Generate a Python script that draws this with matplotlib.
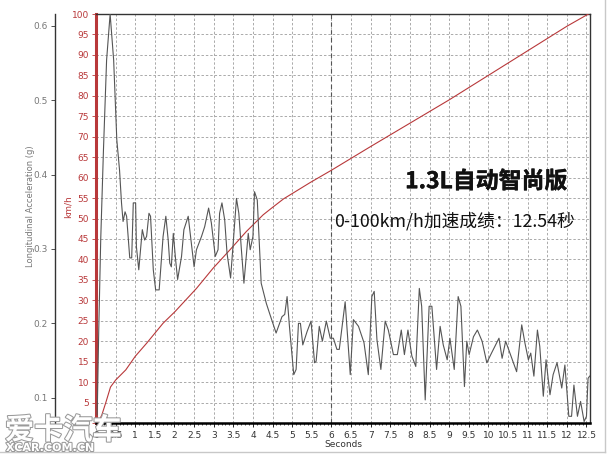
import matplotlib
matplotlib.use('Agg')
import matplotlib.pyplot as plt
import matplotlib.patheffects as pe
from matplotlib.lines import Line2D

# speed trace (km/h)
speed_t = [0.05, 0.15, 0.25, 0.37, 0.5, 0.76, 1.0, 1.29, 1.71, 2.01, 2.56, 2.98,
           3.41, 3.83, 4.26, 4.47, 4.78, 5.46, 6.0, 7.0, 8.0, 9.0, 10.0, 11.0,
           12.0, 12.55]
speed_v = [0, 2, 5, 8.8, 10.5, 13, 16.3, 19.5, 24.4, 27.2, 32.9, 37.8,
           42.3, 46.8, 50.9, 52.5, 54.8, 58.8, 61.8, 67.6, 73.3, 79, 85, 91,
           97, 100]

# longitudinal acceleration trace (g)
acc_t = [0.03, 0.07, 0.12, 0.19, 0.27, 0.36, 0.45, 0.53, 0.60, 0.65, 0.69, 0.74,
         0.78, 0.86, 0.91, 0.95, 1.01, 1.03, 1.09, 1.18, 1.24, 1.29, 1.35, 1.39,
         1.46, 1.52, 1.61, 1.71, 1.78, 1.84, 1.88, 1.92, 1.97, 2.03, 2.08, 2.18,
         2.24, 2.35, 2.41, 2.50, 2.56, 2.69, 2.77, 2.87, 2.94, 3.04, 3.11, 3.15,
         3.21, 3.28, 3.34, 3.43, 3.49, 3.58, 3.64, 3.70, 3.77, 3.88, 3.93, 4.00,
         4.04, 4.11, 4.17, 4.21, 4.34, 4.42, 4.59, 4.74, 4.81, 4.87, 4.93, 5.04,
         5.10, 5.16, 5.21, 5.27, 5.38, 5.48, 5.57, 5.61, 5.69, 5.77, 5.87, 5.97,
         6.05, 6.14, 6.20, 6.35, 6.48, 6.56, 6.69, 6.83, 6.94, 7.03, 7.09, 7.16,
         7.26, 7.37, 7.45, 7.58, 7.68, 7.78, 7.86, 7.95, 8.05, 8.15, 8.24, 8.30,
         8.39, 8.49, 8.56, 8.68, 8.77, 8.85, 8.95, 9.02, 9.13, 9.23, 9.30, 9.39,
         9.45, 9.51, 9.62, 9.72, 9.84, 9.96, 10.08, 10.27, 10.35, 10.44, 10.55, 10.72,
         10.85, 10.93, 11.02, 11.08, 11.16, 11.25, 11.31, 11.40, 11.47, 11.57, 11.65, 11.75,
         11.87, 11.95, 12.05, 12.12, 12.18, 12.27, 12.35, 12.44, 12.50, 12.54, 12.58]
acc_g = [0.077, 0.191, 0.312, 0.433, 0.554, 0.616, 0.554, 0.447, 0.406, 0.362, 0.337, 0.350,
         0.344, 0.288, 0.288, 0.362, 0.362, 0.303, 0.272, 0.326, 0.312, 0.317, 0.348, 0.344,
         0.272, 0.245, 0.245, 0.317, 0.344, 0.312, 0.281, 0.276, 0.321, 0.285, 0.259, 0.290,
         0.326, 0.344, 0.317, 0.276, 0.299, 0.317, 0.330, 0.355, 0.335, 0.290, 0.299, 0.348,
         0.362, 0.339, 0.294, 0.261, 0.303, 0.368, 0.348, 0.303, 0.254, 0.321, 0.299, 0.317,
         0.377, 0.366, 0.299, 0.254, 0.227, 0.214, 0.187, 0.209, 0.212, 0.236, 0.196, 0.131,
         0.138, 0.200, 0.200, 0.171, 0.189, 0.203, 0.147, 0.149, 0.196, 0.176, 0.203, 0.180,
         0.180, 0.165, 0.165, 0.229, 0.131, 0.205, 0.196, 0.174, 0.131, 0.236, 0.243, 0.178,
         0.138, 0.203, 0.191, 0.158, 0.158, 0.191, 0.158, 0.191, 0.156, 0.142, 0.247, 0.223,
         0.097, 0.223, 0.223, 0.138, 0.196, 0.171, 0.151, 0.180, 0.138, 0.236, 0.223, 0.115,
         0.176, 0.158, 0.182, 0.191, 0.176, 0.147, 0.160, 0.180, 0.153, 0.176, 0.160, 0.135,
         0.198, 0.174, 0.151, 0.160, 0.129, 0.191, 0.169, 0.102, 0.151, 0.104, 0.131, 0.147,
         0.113, 0.144, 0.075, 0.075, 0.117, 0.075, 0.095, 0.068, 0.075, 0.126, 0.129]

x_ticks = [i * 0.5 for i in range(26)]
x_labels = ['0', '0.5', '1', '1.5', '2', '2.5', '3', '3.5', '4', '4.5', '5', '5.5', '6',
            '6.5', '7', '7.5', '8', '8.5', '9', '9.5', '10', '10.5', '11', '11.5', '12', '12.5']
kmh_ticks = list(range(0, 101, 5))
g_ticks = [0.1, 0.2, 0.3, 0.4, 0.5, 0.6]

title = '1.3L自动智尚版'
subtitle = '0-100km/h加速成绩：12.54秒'

RED = '#b8383a'
GRAY = '#777777'
cjk = ['Noto Sans CJK SC', 'DejaVu Sans']

fig = plt.figure(figsize=(6.08, 4.55), dpi=100)
ax = fig.add_axes([96/608, 32/455, 494/608, 409/455])
ax.set_xlim(0, 12.59)
ax.set_ylim(0, 100)

# grid
for t in x_ticks[1:]:
    ax.axvline(t, color='#aaaaaa', lw=0.7, ls=(0, (2.5, 2)), zorder=1)
for v in kmh_ticks[1:]:
    ax.axhline(v, color='#aaaaaa', lw=0.7, ls=(0, (2.5, 2)), zorder=1)
ax.axvline(6, color='#555555', lw=0.8, ls=(0, (4, 3)), zorder=1.5)

ax.plot(speed_t, speed_v, color=RED, lw=0.8, zorder=3)

ax.set_xticks(x_ticks)
ax.set_xticklabels(x_labels, fontsize=6.5, color='#333333')
ax.set_xticks([i * 0.1 for i in range(126)], minor=True)
ax.tick_params(axis='x', which='major', length=3, width=0.6, pad=3)
ax.tick_params(axis='x', which='minor', length=1.5, width=0.5)
ax.set_xlabel('Seconds', fontsize=6.5, color='#333333', labelpad=0)

ax.set_yticks(kmh_ticks)
ax.set_yticklabels([str(v) for v in kmh_ticks], fontsize=6.5, color=RED)
ax.tick_params(axis='y', length=3, width=0.6, color=RED, pad=2)
ax.set_ylabel('km/h', fontsize=6.5, color=RED)
ax.yaxis.set_label_coords(-0.047, 0.53)

ax.spines['left'].set_color(RED)
ax.spines['left'].set_linewidth(2.2)
ax.spines['bottom'].set_color('black')
ax.spines['bottom'].set_linewidth(1.8)
ax.spines['top'].set_color('#333333')
ax.spines['top'].set_linewidth(1.0)
ax.spines['right'].set_color('#333333')
ax.spines['right'].set_linewidth(1.0)

# acceleration axis on the far left
ax2 = ax.twinx()
ax2.set_ylim(0.066, 0.616)
ax2.plot(acc_t, acc_g, color='#555555', lw=0.8, zorder=4)
ax2.yaxis.tick_left()
ax2.yaxis.set_label_position('left')
for s in ['top', 'right', 'bottom']:
    ax2.spines[s].set_visible(False)
ax2.spines['left'].set_position(('axes', -0.083))
ax2.spines['left'].set_color('#333333')
ax2.spines['left'].set_linewidth(1.0)
ax2.set_yticks(g_ticks)
ax2.set_yticklabels([str(g) for g in g_ticks], fontsize=6.5, color=GRAY)
ax2.tick_params(axis='y', length=3, width=0.6, color='#333333', pad=2)
ax2.set_ylabel('Longitudinal Acceleration (g)', fontsize=6, color=GRAY)
ax2.yaxis.set_label_coords(-0.124, 0.53)

ax.text(0.79, 0.59, title, transform=ax.transAxes, family=cjk,
        fontsize=16.5, fontweight='heavy', color='#111111', ha='center', va='center',
        zorder=5, path_effects=[pe.withStroke(linewidth=0.3, foreground='#111111')])
ax.text(0.482, 0.494, subtitle, transform=ax.transAxes, family=cjk,
        fontsize=12.8, color='#111111', ha='left', va='center', zorder=5)

# watermark
outline = [pe.withStroke(linewidth=1.5, foreground='#9a9a9a')]
fig.text(5/608, 1 - 430/455, '爱卡汽车', family=cjk, fontsize=21, fontweight='bold',
         color='white', ha='left', va='center', path_effects=outline)
fig.text(6/608, 1 - 448/455, 'XCAR.COM.CN', fontsize=8, fontweight='bold',
         color='white', ha='left', va='center', path_effects=outline)

# faint frame of the picture
fig.add_artist(Line2D([0, 605/608], [1 - 452/455, 1 - 452/455],
                      transform=fig.transFigure, color='#c8c8c8', lw=1))
fig.add_artist(Line2D([605/608, 605/608], [1 - 452/455, 1],
                      transform=fig.transFigure, color='#c8c8c8', lw=1))

fig.savefig('out.png', dpi=100)
